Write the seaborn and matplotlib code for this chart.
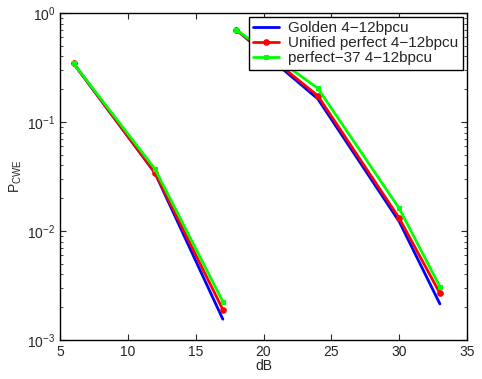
import numpy as np
import pandas as pd
import matplotlib
matplotlib.use("Agg")
import matplotlib.pyplot as plt
import seaborn as sns

# Data
snr_4 = [6, 12, 17]
snr_12 = [18, 24, 30, 33]
golden_4 = [0.345, 0.034, 0.00155]
golden_12 = [0.70, 0.163, 0.0122, 0.00214]
unified_4 = [0.345, 0.0343, 0.0019]
unified_12 = [0.70, 0.174, 0.0131, 0.00268]
p37_4 = [0.345, 0.037, 0.00225]
p37_12 = [0.70, 0.204, 0.0161, 0.00308]
labels = ["Golden 4\u221212bpcu", "Unified perfect 4\u221212bpcu", "perfect\u221237 4\u221212bpcu"]

sns.set_style("ticks")
plt.rcParams['font.family'] = ['Liberation Sans', 'DejaVu Sans']
plt.rcParams['mathtext.fontset'] = 'custom'
plt.rcParams['mathtext.rm'] = 'Liberation Sans'
plt.rcParams['mathtext.it'] = 'Liberation Sans'

fig = plt.figure(figsize=(4.82, 3.79), dpi=100)
ax = fig.add_axes([0.1245, 0.103, 0.8445, 0.8627])

series = [
    (labels[0], golden_4, golden_12, "#0000ff", None, 0),
    (labels[1], unified_4, unified_12, "#ff0000", "o", 4),
    (labels[2], p37_4, p37_12, "#00ff00", "s", 3.5),
]
for lab, s4, s12, col, mk, ms in series:
    for i, (xs, ys) in enumerate([(snr_4, s4), (snr_12, s12)]):
        df = pd.DataFrame({"x": xs, "y": ys})
        kw = dict(marker=mk, markersize=ms, markeredgecolor=col, markerfacecolor=col) if mk else {}
        sns.lineplot(data=df, x="x", y="y", ax=ax, color=col, linewidth=2,
                     label=lab if i == 0 else None, sort=False, estimator=None, **kw)

ax.set_yscale("log")
ax.set_xlim(5, 35)
ax.set_ylim(1e-3, 1)
ax.set_xticks([5, 10, 15, 20, 25, 30, 35])
ax.tick_params(which="both", direction="in", top=True, right=True, labelsize=10)
ax.tick_params(which="major", length=4)
ax.tick_params(which="minor", length=2)
for sp in ax.spines.values():
    sp.set_linewidth(1)
    sp.set_color("black")
ax.set_xlabel("dB", fontsize=10, labelpad=0)
ax.set_ylabel("P$_{\\mathrm{CWE}}$", fontsize=10, labelpad=2)
leg = ax.legend(loc="upper right", fontsize=11, frameon=True, fancybox=False,
                edgecolor="black", framealpha=1, borderaxespad=0.25,
                handlelength=1.7, handletextpad=0.6, borderpad=0.3, labelspacing=0.05)
leg.get_frame().set_linewidth(1)

fig.savefig("out.png", dpi=100)
